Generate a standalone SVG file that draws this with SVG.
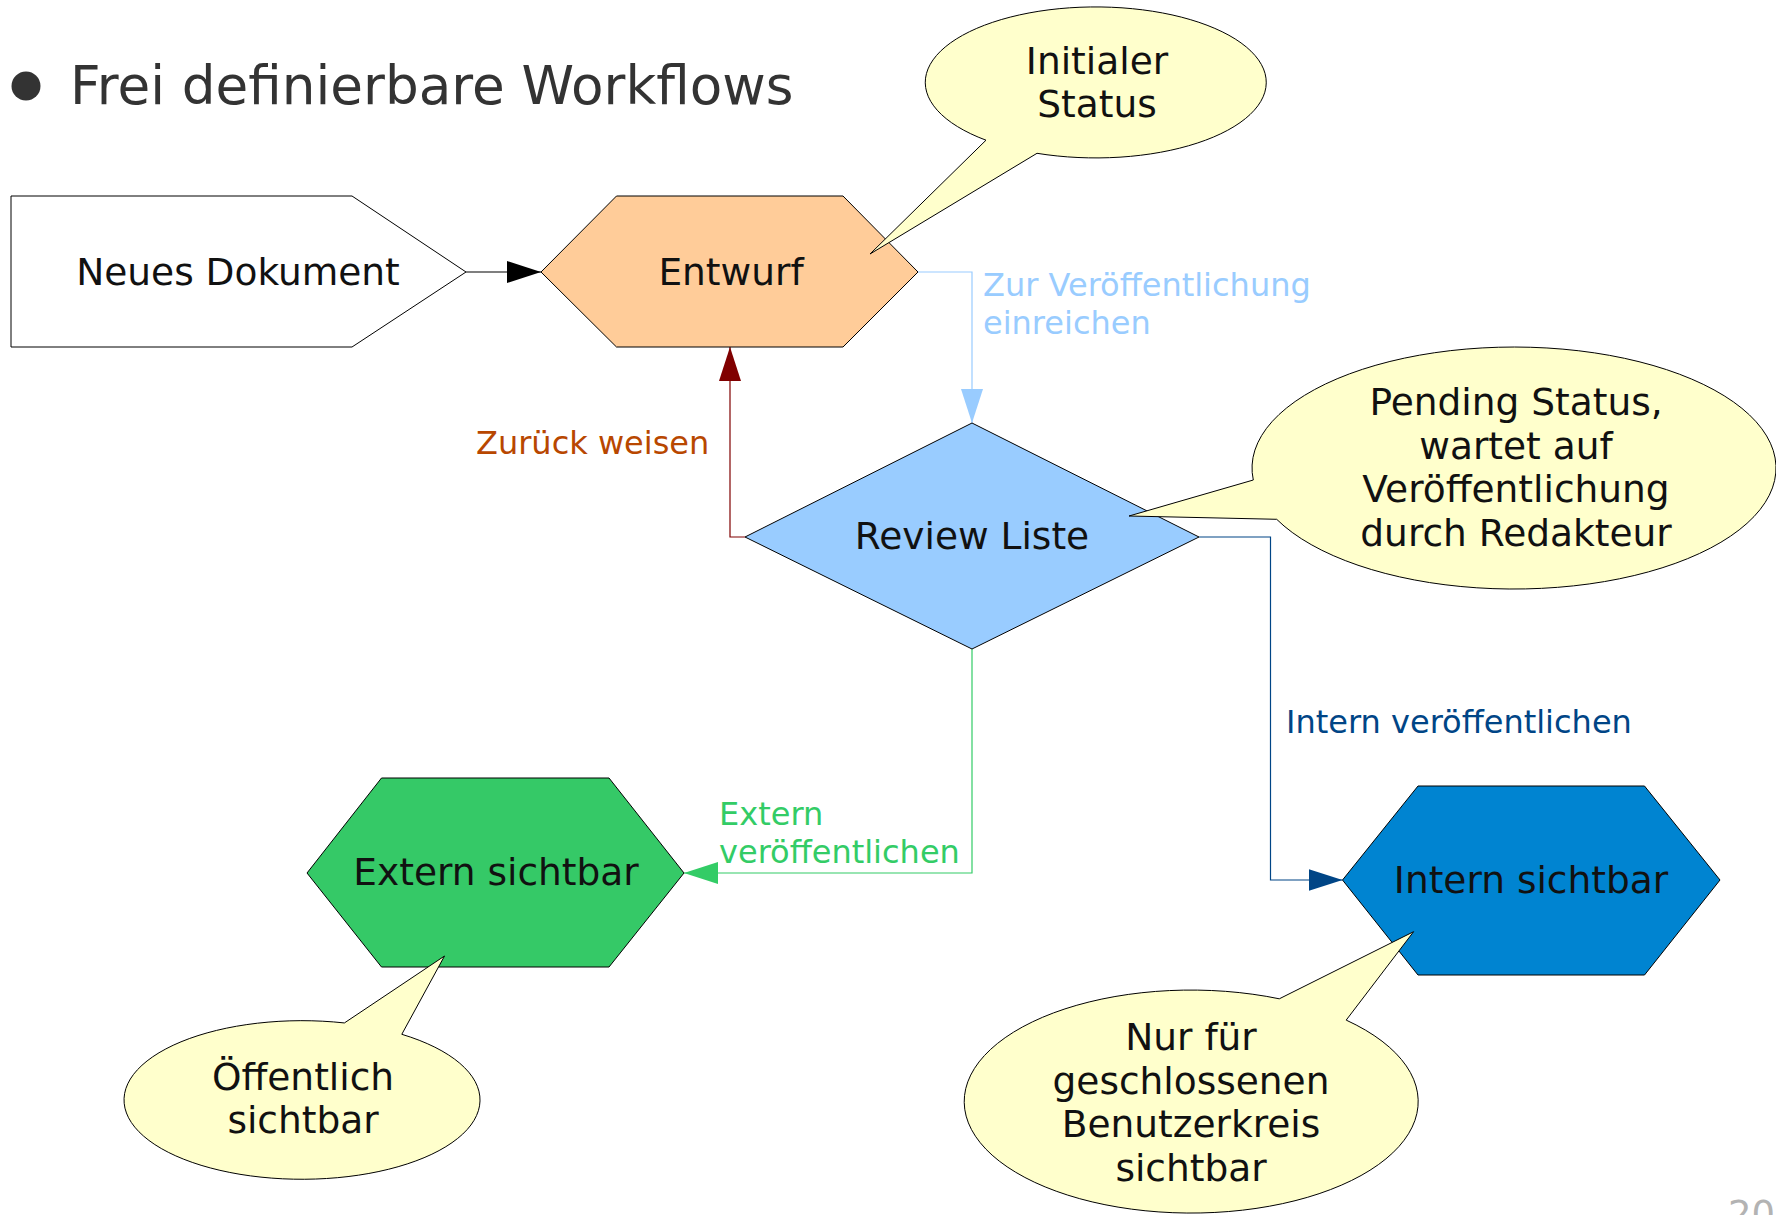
<svg xmlns="http://www.w3.org/2000/svg" width="1776" height="1215" viewBox="0 0 1776 1215">
  <style>
    text { font-family: "DejaVu Sans", "Liberation Sans", sans-serif; }
    .node { stroke: #000; stroke-width: 1; stroke-linejoin: miter; }
    .ntext { font-size: 37.5px; fill: #111; text-anchor: middle; }
    .callout { fill: #ffffcc; stroke: #000; stroke-width: 1; }
    .lbl { font-size: 32px; }
    .conn { fill: none; stroke-width: 1.2; }
  </style>
  <defs>
    <marker id="arrBlack" markerUnits="userSpaceOnUse" markerWidth="34" markerHeight="22" refX="34" refY="11" orient="auto">
      <path d="M0,0 L34,11 L0,22 z" fill="#000"/>
    </marker>
    <marker id="arrLightBlue" markerUnits="userSpaceOnUse" markerWidth="34" markerHeight="22" refX="34" refY="11" orient="auto">
      <path d="M0,0 L34,11 L0,22 z" fill="#99ccff"/>
    </marker>
    <marker id="arrRed" markerUnits="userSpaceOnUse" markerWidth="34" markerHeight="22" refX="34" refY="11" orient="auto">
      <path d="M0,0 L34,11 L0,22 z" fill="#800000"/>
    </marker>
    <marker id="arrGreen" markerUnits="userSpaceOnUse" markerWidth="34" markerHeight="22" refX="34" refY="11" orient="auto">
      <path d="M0,0 L34,11 L0,22 z" fill="#33cc66"/>
    </marker>
    <marker id="arrDarkBlue" markerUnits="userSpaceOnUse" markerWidth="34" markerHeight="22" refX="34" refY="11" orient="auto">
      <path d="M0,0 L34,11 L0,22 z" fill="#004586"/>
    </marker>
  </defs>

  <rect x="0" y="0" width="1776" height="1215" fill="#fff"/>

  <g id="title">
    <circle cx="26" cy="86" r="14.5" fill="#333"/>
    <text x="70" y="104" font-size="53.2" fill="#333">Frei definierbare Workflows</text>
  </g>

  <g id="connectors">
    <path class="conn" d="M466,272 L541,272" stroke="#000" marker-end="url(#arrBlack)"/>
    <path class="conn" d="M918,272 L972,272 L972,423" stroke="#99ccff" marker-end="url(#arrLightBlue)"/>
    <path class="conn" d="M745,537 L730,537 L730,347" stroke="#800000" marker-end="url(#arrRed)"/>
    <path class="conn" d="M972,649 L972,873 L684,873" stroke="#33cc66" marker-end="url(#arrGreen)"/>
    <path class="conn" d="M1199,537 L1270.5,537 L1270.5,880 L1342.5,880" stroke="#004586" marker-end="url(#arrDarkBlue)"/>
    <text class="lbl" fill="#99ccff" x="983" y="296">Zur Veröffentlichung</text>
    <text class="lbl" fill="#99ccff" x="983" y="334">einreichen</text>
    <text class="lbl" fill="#b84700" x="476" y="454">Zurück weisen</text>
    <text class="lbl" fill="#33cc66" x="719" y="825">Extern</text>
    <text class="lbl" fill="#33cc66" x="719" y="863">veröffentlichen</text>
    <text class="lbl" fill="#004586" x="1286" y="733">Intern veröffentlichen</text>
  </g>

  <g id="neues-dokument">
    <polygon class="node" points="11,196 352,196 466,272 352,347 11,347" fill="#fff"/>
    <text class="ntext" x="238" y="285">Neues Dokument</text>
  </g>

  <g id="entwurf">
    <polygon class="node" points="541,272 616.5,196 843,196 918,272 843,347 616.5,347" fill="#ffcc99"/>
    <text class="ntext" x="731" y="285">Entwurf</text>
  </g>

  <g id="review-liste">
    <polygon class="node" points="972,423 1199,537 972,649 745,537" fill="#99ccff"/>
    <text class="ntext" x="972" y="549">Review Liste</text>
  </g>

  <g id="extern-sichtbar">
    <polygon class="node" points="307,873 381.5,778 609,778 684,873 609,967 381.5,967" fill="#35c967"/>
    <text class="ntext" x="496" y="885">Extern sichtbar</text>
  </g>

  <g id="intern-sichtbar">
    <polygon class="node" points="1342.5,880 1418,786 1644.5,786 1720,880 1644.5,975 1418,975" fill="#0084d1"/>
    <text class="ntext" x="1531" y="893">Intern sichtbar</text>
  </g>

  <g id="callout-initialer">
    <path class="callout" d="M986,140.2 L870,254 L1037,153.3 A170.5 75.5 0 1 0 986,140.2 Z"/>
    <text class="ntext" x="1097" y="74">Initialer</text>
    <text class="ntext" x="1097" y="117">Status</text>
  </g>

  <g id="callout-pending">
    <path class="callout" d="M1253.3,480 L1129,516 L1276.7,519.3 A262 121 0 1 0 1253.3,480 Z"/>
    <text class="ntext" x="1516" y="415">Pending Status,</text>
    <text class="ntext" x="1516" y="458.5">wartet auf</text>
    <text class="ntext" x="1516" y="502">Veröffentlichung</text>
    <text class="ntext" x="1516" y="545.5">durch Redakteur</text>
  </g>

  <g id="callout-oeffentlich">
    <path class="callout" d="M344.4,1022.95 L444.5,956 L401.8,1034.3 A178 79.3 0 1 1 344.4,1022.95 Z"/>
    <text class="ntext" x="303" y="1090">Öffentlich</text>
    <text class="ntext" x="303" y="1133">sichtbar</text>
  </g>

  <g id="callout-nur-fuer">
    <path class="callout" d="M1279.3,998.8 L1413.6,931.7 L1346.2,1020.1 A227 111.5 0 1 1 1279.3,998.8 Z"/>
    <text class="ntext" x="1191" y="1050">Nur für</text>
    <text class="ntext" x="1191" y="1093.5">geschlossenen</text>
    <text class="ntext" x="1191" y="1137">Benutzerkreis</text>
    <text class="ntext" x="1191" y="1180.5">sichtbar</text>
  </g>

  <g id="page-number">
    <text x="1728" y="1227" font-size="37" fill="#b3b3b3">20</text>
  </g>
</svg>
